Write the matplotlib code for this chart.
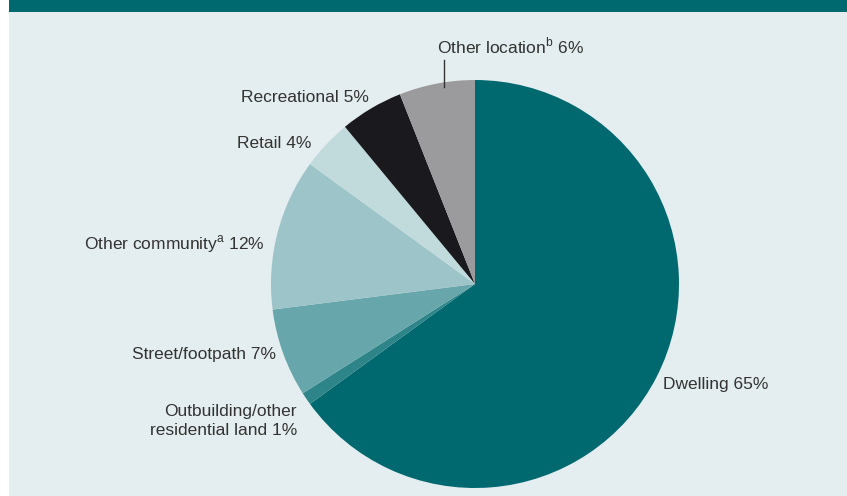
import matplotlib
matplotlib.use("Agg")
import matplotlib.pyplot as plt
from matplotlib.patches import Rectangle

# slices, clockwise from 12 o'clock
labels = ["Dwelling", "Outbuilding/other\nresidential land", "Street/footpath",
          "Other community$^{\\mathregular{a}}$", "Retail", "Recreational",
          "Other location$^{\\mathregular{b}}$"]
shares = [65, 1, 7, 12, 4, 5, 6]
colors = ["#006970", "#2d8489", "#67a6ab", "#9dc4c8", "#c1dbdc", "#1a191d", "#9b9b9e"]

plt.rcParams['font.family'] = ['Liberation Sans Narrow', 'Liberation Sans', 'DejaVu Sans']
plt.rcParams['mathtext.fontset'] = 'custom'

W, H = 847, 496
fig = plt.figure(figsize=(W / 100, H / 100), dpi=100)
fig.patch.set_facecolor("white")

# panel background and header strip
fig.patches.append(Rectangle((9 / W, 0), 1 - 9 / W, 1 - 12 / H, transform=fig.transFigure,
                             facecolor="#e4eef0", edgecolor="none", zorder=-10))
fig.patches.append(Rectangle((9 / W, 1 - 12 / H), 1 - 9 / W, 12 / H, transform=fig.transFigure,
                             facecolor="#006970", edgecolor="none", zorder=-10))

cx, cy, r = 475, 284, 204
ax = fig.add_axes([(cx - r) / W, (H - cy - r) / H, 2 * r / W, 2 * r / H])
ax.set_zorder(5)
ax.pie(shares, colors=colors, startangle=90, counterclock=False,
       wedgeprops=dict(linewidth=0))
ax.set_xlim(-1, 1)
ax.set_ylim(-1, 1)
ax.set_aspect("equal")
ax.axis("off")


def px(x, y):
    return (x - cx) / r, (cy - y) / r


txt = dict(fontsize=12.5, color="#333333", va="center")
label_pos = [
    (663, 385, "left"),
    (297, 421, "right"),
    (276, 355, "right"),
    (265, 244, "right"),
    (311, 143, "right"),
    (369, 97, "right"),
    (437, 46, "left"),
]
for lab, s, (x, y, ha) in zip(labels, shares, label_pos):
    tx, ty = px(x, y)
    ax.text(tx, ty, f"{lab} {s}%", ha=ha, linespacing=1.35, **txt)

# leader line for "Other location"
x0, y0 = px(444, 60)
x1, y1 = px(444, 87)
ax.plot([x0, x1], [y0, y1], color="#333333", linewidth=1, clip_on=False)

fig.savefig("out.png", dpi=100, facecolor=fig.get_facecolor())
